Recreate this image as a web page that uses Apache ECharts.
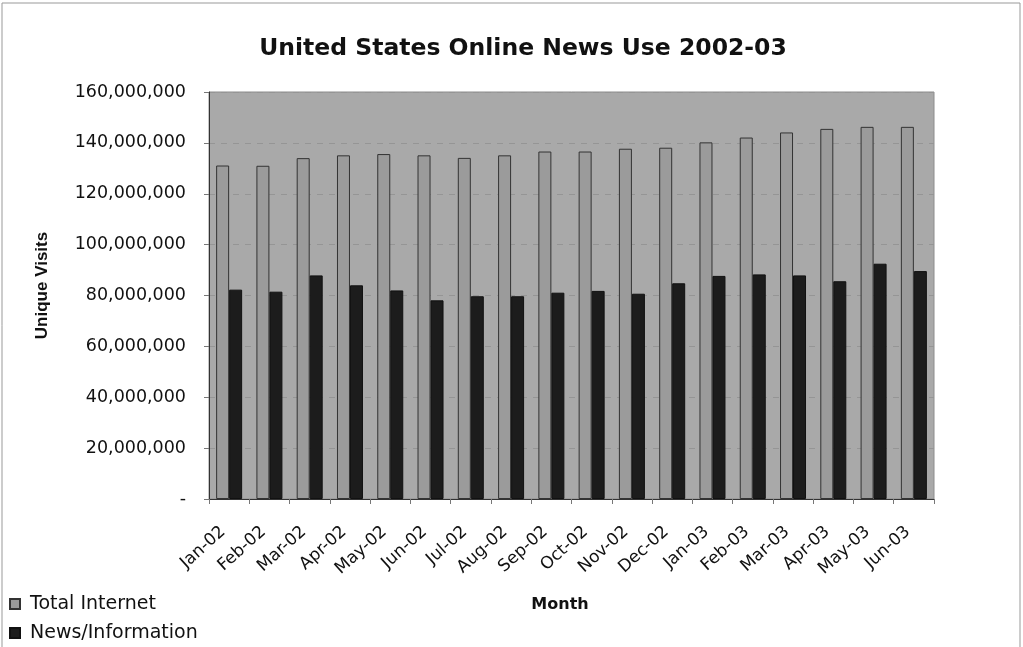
<!DOCTYPE html>
<html>
<head>
<meta charset="utf-8">
<script src="https://cdn.jsdelivr.net/npm/echarts@6/dist/echarts.min.js"></script>
<style>
  html, body { margin: 0; padding: 0; background: #fff; }
  #chart { width: 1023px; height: 647px; }
</style>
</head>
<body>
<div id="chart"></div>
<script>
// months on the x axis
const months = ['Jan-02', 'Feb-02', 'Mar-02', 'Apr-02', 'May-02', 'Jun-02', 'Jul-02', 'Aug-02', 'Sep-02',
  'Oct-02', 'Nov-02', 'Dec-02', 'Jan-03', 'Feb-03', 'Mar-03', 'Apr-03', 'May-03', 'Jun-03'];

// unique visits
const totalInternet = [131100000, 131000000, 134000000, 135100000, 135600000, 135100000, 134100000, 135100000, 136600000,
  136600000, 137700000, 138100000, 140200000, 142100000, 144100000, 145500000, 146300000, 146300000];
const newsInformation = [82300000, 81500000, 87900000, 84000000, 82000000, 78100000, 79700000, 79700000, 81100000,
  81800000, 80700000, 84800000, 87700000, 88300000, 87900000, 85600000, 92500000, 89600000];

// the scan is a bit wide, so the wider DejaVu face fits it better
const font = '"DejaVu Sans", "Liberation Sans", Arial, sans-serif';

let chart = echarts.init(document.getElementById('chart'));
chart.setOption({
  animation: false,
  backgroundColor: '#fff',
  textStyle: { fontFamily: font },
  title: {
    text: 'United States Online News Use 2002-03',
    left: 518,
    textAlign: 'center',
    top: 32,
    textStyle: { fontFamily: font, fontSize: 23.5, fontWeight: 'bold', color: '#111' }
  },
  graphic: [
    {
      type: 'rect',
      shape: { x: 2, y: 3, width: 1018, height: 650 },
      style: { fill: 'none', stroke: '#999', lineWidth: 1 },
      silent: true
    }
  ],
  legend: {
    orient: 'vertical',
    left: 9,
    top: 594,
    padding: 0,
    itemWidth: 10,
    itemHeight: 10,
    itemGap: 9,
    icon: 'rect',
    textStyle: { fontFamily: font, fontSize: 19, lineHeight: 20, color: '#111', padding: [0, 0, 0, 5] },
    data: ['Total Internet', 'News/Information']
  },
  grid: {
    left: 209,
    right: 89,
    top: 92,
    bottom: 148,
    show: true,
    backgroundColor: '#a9a9a9',
    borderColor: '#8c8c8c',
    borderWidth: 1
  },
  xAxis: {
    type: 'category',
    data: months,
    name: 'Month',
    nameLocation: 'middle',
    nameGap: 98,
    nameTextStyle: { fontFamily: font, fontSize: 16, fontWeight: 'bold', color: '#111', padding: [0, 23, 0, 0] },
    axisLine: { lineStyle: { color: '#333', width: 1 } },
    axisTick: { show: true, length: 5, lineStyle: { color: '#777' } },
    axisLabel: { rotate: 42, fontSize: 17, color: '#111', margin: 25, padding: [0, 8, 0, 0], fontFamily: font }
  },
  yAxis: {
    type: 'value',
    min: 0,
    max: 160000000,
    interval: 20000000,
    name: 'Unique Visits',
    nameLocation: 'middle',
    nameGap: 158,
    nameTextStyle: {
      fontFamily: '"Liberation Sans", Arial, sans-serif',
      fontSize: 17,
      fontWeight: 'bold',
      color: '#111',
      padding: [0, 0, 0, 20]
    },
    axisLine: { show: true, lineStyle: { color: '#333', width: 1 } },
    axisTick: { show: true, length: 5, lineStyle: { color: '#777' } },
    axisLabel: {
      fontSize: 17.5,
      color: '#111',
      margin: 23,
      fontFamily: font,
      formatter: function (v) {
        return v === 0 ? '-' : v.toLocaleString('en-US');
      }
    },
    splitLine: { show: true, lineStyle: { color: '#959595', type: [6, 6], width: 1 } }
  },
  series: [
    {
      name: 'Total Internet',
      type: 'bar',
      data: totalInternet,
      barWidth: 13,
      barGap: '0%',
      itemStyle: { color: '#9b9b9b', borderColor: '#333', borderWidth: 1 }
    },
    {
      name: 'News/Information',
      type: 'bar',
      data: newsInformation,
      barWidth: 13,
      itemStyle: { color: '#1c1c1c', borderColor: '#111', borderWidth: 1 }
    }
  ]
});
</script>
</body>
</html>
